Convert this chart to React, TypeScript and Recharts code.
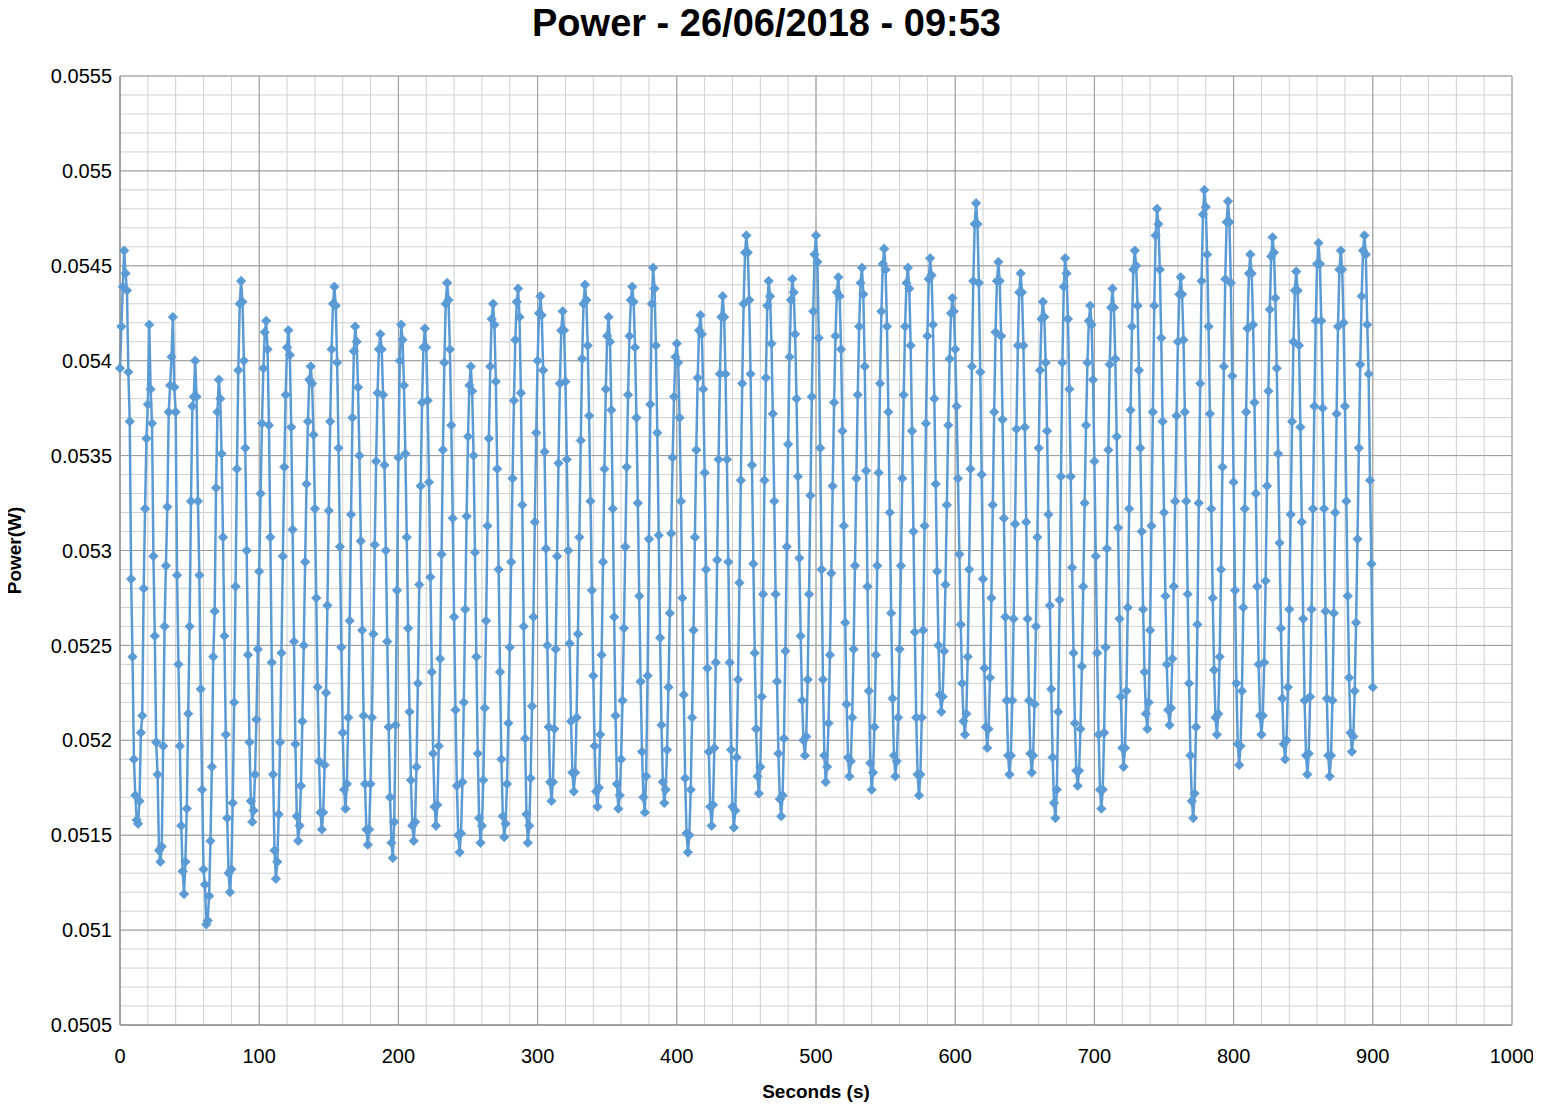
import React from 'react';
import { LineChart, Line, XAxis, YAxis, CartesianGrid } from 'recharts';

const chartTitle = 'Power - 26/06/2018 - 09:53';
const xAxisTitle = 'Seconds (s)';
const yAxisTitle = 'Power(W)';
const sampleIntervalSeconds = 1;

// Power readings in milliwatts, one per second
const powerMw000 = [
  53.96, 54.18, 54.39, 54.58, 54.46, 54.37, 53.94, 53.68, 52.85, 52.44,
  51.90, 51.71, 51.58, 51.56, 51.68, 52.04, 52.13, 52.80, 53.22, 53.59,
  53.77, 54.19, 53.85, 53.67, 52.97, 52.55, 51.99, 51.82, 51.42, 51.36,
  51.44, 51.97, 52.60, 52.92, 53.23, 53.73, 53.87, 54.02, 54.23, 53.86,
  53.73, 52.87, 52.40, 51.97, 51.55, 51.31, 51.19, 51.36, 51.64, 52.14,
  52.60, 53.26, 53.76, 53.81, 54.00, 53.81, 53.26, 52.87, 52.27, 51.74,
  51.32, 51.24, 51.03, 51.05, 51.18, 51.47, 51.86, 52.44, 52.68, 53.33,
  53.73, 53.90, 53.80, 53.51, 53.07, 52.55, 52.03, 51.59, 51.30, 51.20,
  51.32, 51.67, 52.20, 52.81, 53.43, 53.95, 54.30, 54.42, 54.31, 54.00,
  53.54, 53.00, 52.45, 51.99, 51.68, 51.57, 51.63, 51.82, 52.11, 52.48,
];
const powerMw100 = [
  52.89, 53.30, 53.67, 53.96, 54.15, 54.21, 54.06, 53.66, 53.07, 52.41,
  51.82, 51.42, 51.27, 51.36, 51.61, 51.99, 52.46, 52.97, 53.44, 53.82,
  54.07, 54.16, 54.03, 53.65, 53.11, 52.52, 51.98, 51.60, 51.47, 51.55,
  51.76, 52.10, 52.50, 52.94, 53.35, 53.68, 53.90, 53.97, 53.88, 53.61,
  53.22, 52.75, 52.28, 51.89, 51.62, 51.53, 51.62, 51.87, 52.25, 52.71,
  53.21, 53.68, 54.06, 54.30, 54.39, 54.29, 53.99, 53.54, 53.02, 52.49,
  52.04, 51.74, 51.64, 51.77, 52.12, 52.63, 53.19, 53.70, 54.05, 54.18,
  54.10, 53.86, 53.50, 53.05, 52.58, 52.13, 51.77, 51.53, 51.45, 51.53,
  51.77, 52.12, 52.56, 53.03, 53.47, 53.83, 54.06, 54.14, 54.06, 53.82,
  53.45, 53.00, 52.52, 52.07, 51.70, 51.46, 51.38, 51.57, 52.08, 52.79,
];
const powerMw200 = [
  53.49, 54.00, 54.19, 54.11, 53.87, 53.51, 53.07, 52.59, 52.15, 51.79,
  51.55, 51.47, 51.57, 51.86, 52.30, 52.82, 53.34, 53.78, 54.07, 54.17,
  54.07, 53.79, 53.36, 52.86, 52.36, 51.93, 51.65, 51.55, 51.66, 51.97,
  52.43, 52.98, 53.53, 53.99, 54.30, 54.41, 54.32, 54.06, 53.66, 53.17,
  52.65, 52.16, 51.76, 51.50, 51.41, 51.51, 51.78, 52.20, 52.69, 53.18,
  53.60, 53.87, 53.97, 53.84, 53.50, 52.99, 52.44, 51.93, 51.59, 51.46,
  51.55, 51.79, 52.17, 52.63, 53.13, 53.59, 53.97, 54.22, 54.30, 54.19,
  53.89, 53.43, 52.90, 52.36, 51.90, 51.60, 51.49, 51.56, 51.77, 52.09,
  52.49, 52.94, 53.38, 53.79, 54.11, 54.31, 54.38, 54.23, 53.83, 53.24,
  52.60, 52.01, 51.61, 51.46, 51.55, 51.80, 52.18, 52.65, 53.15, 53.62,
];
const powerMw300 = [
  54.00, 54.25, 54.34, 54.24, 53.95, 53.52, 53.01, 52.50, 52.07, 51.78,
  51.68, 51.78, 52.06, 52.48, 52.97, 53.46, 53.88, 54.16, 54.26, 54.16,
  53.89, 53.48, 53.00, 52.51, 52.10, 51.83, 51.73, 51.83, 52.12, 52.56,
  53.07, 53.58, 54.01, 54.30, 54.40, 54.32, 54.08, 53.71, 53.26, 52.79,
  52.34, 51.97, 51.73, 51.65, 51.75, 52.03, 52.45, 52.94, 53.43, 53.85,
  54.13, 54.23, 54.10, 53.74, 53.22, 52.65, 52.13, 51.77, 51.64, 51.71,
  51.90, 52.21, 52.59, 53.02, 53.44, 53.82, 54.13, 54.32, 54.39, 54.31,
  54.07, 53.70, 53.25, 52.76, 52.31, 51.94, 51.70, 51.62, 51.81, 52.34,
  53.06, 53.77, 54.30, 54.49, 54.38, 54.08, 53.62, 53.08, 52.54, 52.08,
  51.78, 51.67, 51.74, 51.95, 52.28, 52.67, 53.09, 53.49, 53.81, 54.02,
];
const powerMw400 = [
  54.09, 53.99, 53.70, 53.26, 52.75, 52.24, 51.80, 51.51, 51.41, 51.50,
  51.74, 52.12, 52.58, 53.07, 53.53, 53.91, 54.16, 54.24, 54.14, 53.85,
  53.41, 52.90, 52.38, 51.94, 51.65, 51.55, 51.66, 51.96, 52.41, 52.95,
  53.48, 53.93, 54.23, 54.34, 54.23, 53.93, 53.48, 52.94, 52.41, 51.95,
  51.65, 51.54, 51.63, 51.91, 52.32, 52.83, 53.37, 53.88, 54.30, 54.57,
  54.66, 54.57, 54.32, 53.93, 53.45, 52.93, 52.46, 52.06, 51.81, 51.72,
  51.86, 52.23, 52.77, 53.37, 53.91, 54.29, 54.42, 54.34, 54.09, 53.72,
  53.26, 52.77, 52.31, 51.93, 51.69, 51.60, 51.71, 52.01, 52.47, 53.02,
  53.56, 54.02, 54.32, 54.43, 54.36, 54.14, 53.80, 53.39, 52.96, 52.55,
  52.21, 52.00, 51.92, 52.02, 52.32, 52.77, 53.29, 53.81, 54.26, 54.56,
];
const powerMw500 = [
  54.66, 54.52, 54.12, 53.54, 52.90, 52.32, 51.92, 51.78, 51.86, 52.09,
  52.45, 52.88, 53.34, 53.78, 54.13, 54.36, 54.44, 54.34, 54.06, 53.63,
  53.13, 52.62, 52.19, 51.91, 51.81, 51.89, 52.12, 52.48, 52.92, 53.38,
  53.82, 54.18, 54.41, 54.49, 54.35, 53.97, 53.42, 52.81, 52.26, 51.88,
  51.74, 51.83, 52.07, 52.45, 52.92, 53.41, 53.88, 54.26, 54.51, 54.59,
  54.48, 54.18, 53.73, 53.20, 52.67, 52.22, 51.92, 51.81, 51.89, 52.12,
  52.48, 52.92, 53.38, 53.82, 54.18, 54.41, 54.49, 54.38, 54.08, 53.63,
  53.10, 52.57, 52.12, 51.82, 51.71, 51.82, 52.12, 52.58, 53.13, 53.67,
  54.13, 54.43, 54.54, 54.45, 54.19, 53.80, 53.35, 52.89, 52.50, 52.24,
  52.15, 52.23, 52.47, 52.82, 53.24, 53.66, 54.01, 54.25, 54.33, 54.26,
];
const powerMw600 = [
  54.06, 53.76, 53.38, 52.98, 52.61, 52.30, 52.10, 52.03, 52.14, 52.44,
  52.90, 53.43, 53.97, 54.42, 54.72, 54.83, 54.72, 54.41, 53.94, 53.40,
  52.85, 52.38, 52.07, 51.96, 52.06, 52.33, 52.75, 53.24, 53.73, 54.15,
  54.42, 54.52, 54.42, 54.13, 53.69, 53.17, 52.65, 52.21, 51.92, 51.82,
  51.92, 52.21, 52.64, 53.14, 53.64, 54.08, 54.36, 54.46, 54.36, 54.08,
  53.65, 53.15, 52.64, 52.21, 51.93, 51.83, 51.92, 52.19, 52.60, 53.07,
  53.54, 53.95, 54.22, 54.31, 54.23, 53.99, 53.63, 53.19, 52.71, 52.27,
  51.91, 51.67, 51.59, 51.74, 52.15, 52.74, 53.39, 53.99, 54.39, 54.54,
  54.46, 54.22, 53.85, 53.39, 52.91, 52.46, 52.09, 51.84, 51.76, 51.84,
  52.06, 52.39, 52.81, 53.25, 53.66, 53.99, 54.21, 54.29, 54.19, 53.90,
];
const powerMw700 = [
  53.47, 52.97, 52.46, 52.03, 51.74, 51.64, 51.74, 52.04, 52.49, 53.01,
  53.53, 53.98, 54.28, 54.38, 54.28, 54.01, 53.60, 53.12, 52.64, 52.23,
  51.96, 51.86, 51.96, 52.26, 52.70, 53.22, 53.74, 54.18, 54.48, 54.58,
  54.50, 54.29, 53.95, 53.54, 53.10, 52.69, 52.36, 52.14, 52.06, 52.20,
  52.58, 53.13, 53.73, 54.29, 54.66, 54.80, 54.72, 54.48, 54.12, 53.68,
  53.20, 52.76, 52.40, 52.16, 52.08, 52.17, 52.43, 52.81, 53.26, 53.71,
  54.10, 54.35, 54.44, 54.35, 54.11, 53.73, 53.26, 52.77, 52.30, 51.92,
  51.68, 51.59, 51.72, 52.07, 52.61, 53.25, 53.88, 54.42, 54.77, 54.90,
  54.81, 54.56, 54.18, 53.72, 53.22, 52.75, 52.37, 52.12, 52.03, 52.14,
  52.44, 52.90, 53.44, 53.97, 54.43, 54.73, 54.84, 54.73, 54.41, 53.92,
];
const powerMw800 = [
  53.36, 52.79, 52.30, 51.98, 51.87, 51.97, 52.26, 52.70, 53.22, 53.73,
  54.17, 54.46, 54.56, 54.46, 54.19, 53.78, 53.30, 52.81, 52.40, 52.13,
  52.03, 52.13, 52.41, 52.84, 53.34, 53.84, 54.27, 54.55, 54.65, 54.57,
  54.33, 53.96, 53.51, 53.04, 52.59, 52.22, 51.98, 51.90, 52.00, 52.28,
  52.69, 53.19, 53.68, 54.10, 54.37, 54.47, 54.37, 54.08, 53.65, 53.15,
  52.64, 52.21, 51.92, 51.82, 51.93, 52.23, 52.69, 53.22, 53.76, 54.21,
  54.51, 54.62, 54.51, 54.21, 53.75, 53.22, 52.68, 52.22, 51.92, 51.81,
  51.92, 52.21, 52.67, 53.20, 53.72, 54.18, 54.48, 54.58, 54.48, 54.20,
  53.76, 53.26, 52.76, 52.33, 52.04, 51.94, 52.02, 52.26, 52.62, 53.06,
  53.54, 53.98, 54.34, 54.58, 54.66, 54.56, 54.19, 53.93, 53.37, 52.93,
  52.28,
];

const xTicks = [0, 100, 200, 300, 400, 500, 600, 700, 800, 900, 1000];
const yTickLabels = ['0.0505', '0.051', '0.0515', '0.052', '0.0525', '0.053', '0.0535', '0.054', '0.0545', '0.055', '0.0555'];
const yTicks = yTickLabels.map(Number);

const xMinorStep = 20;
const yMinorStep = 0.0001;
const xMinorTicks = Array.from({ length: 1000 / xMinorStep + 1 }, (_, i) => i * xMinorStep);
const yMinorTicks = Array.from({ length: 51 }, (_, i) => Number((0.0505 + i * yMinorStep).toFixed(4)));

const powerMilliWatts = [
  ...powerMw000, ...powerMw100, ...powerMw200, ...powerMw300, ...powerMw400,
  ...powerMw500, ...powerMw600, ...powerMw700, ...powerMw800,
];
const data = powerMilliWatts.map((mw, i) => ({ seconds: i * sampleIntervalSeconds, power: mw / 1000 }));

const FONT = "'Liberation Sans', Arial, sans-serif";
const SERIES_COLOR = '#5B9BD5';

const renderDiamond = (props: any) => {
  const { cx, cy, index } = props;
  if (cx == null || cy == null) return <g key={`m-${index}`} />;
  const r = 4.7;
  return (
    <path
      key={`m-${index}`}
      d={`M${cx},${cy - r}L${cx + r},${cy}L${cx},${cy + r}L${cx - r},${cy}Z`}
      fill={SERIES_COLOR}
      stroke={SERIES_COLOR}
      strokeWidth={0.8}
    />
  );
};

const formatY = (v: number) => {
  const idx = yTicks.findIndex((t) => Math.abs(t - v) < 1e-9);
  return idx >= 0 ? yTickLabels[idx] : String(v);
};

export default function App() {
  return (
    <div style={{ position: 'relative', width: 1541, height: 1108, margin: '-8px 0 0 -8px', fontFamily: FONT }}>
      <div
        style={{
          position: 'absolute',
          top: 4,
          left: 0,
          width: 1533,
          textAlign: 'center',
          fontSize: 38,
          lineHeight: '38px',
          fontWeight: 'bold',
          color: '#000',
          fontFamily: FONT,
        }}
      >
        {chartTitle}
      </div>
      <div style={{ position: 'absolute', top: 0, left: 0 }}>
        <LineChart width={1541} height={1108} data={data} margin={{ top: 76, right: 29, bottom: 0, left: 0 }}>
          <XAxis xAxisId="minor" type="number" dataKey="seconds" domain={[0, 1000]} ticks={xMinorTicks} interval={0} hide />
          <YAxis yAxisId="minor" type="number" dataKey="power" domain={[0.0505, 0.0555]} ticks={yMinorTicks} interval={0} hide />
          <CartesianGrid xAxisId="minor" yAxisId="minor" stroke="#D0D0D0" strokeWidth={1} />
          <CartesianGrid stroke="#9A9A9A" strokeWidth={1} />
          <XAxis
            type="number"
            dataKey="seconds"
            domain={[0, 1000]}
            ticks={xTicks}
            interval={0}
            height={83}
            tickLine={false}
            tickSize={0}
            tickMargin={24}
            axisLine={{ stroke: '#868686', strokeWidth: 1 }}
            tick={{ fontSize: 20, fill: '#000', fontFamily: FONT }}
            label={{
              value: xAxisTitle,
              position: 'insideBottom',
              offset: 10,
              fontSize: 19,
              fontWeight: 'bold',
              fill: '#000',
              fontFamily: FONT,
              style: { fontSize: 19, fontWeight: 'bold', fill: '#000', fontFamily: FONT },
            }}
          />
          <YAxis
            type="number"
            dataKey="power"
            domain={[0.0505, 0.0555]}
            ticks={yTicks}
            interval={0}
            width={120}
            tickLine={false}
            tickSize={0}
            tickMargin={8}
            tickFormatter={formatY}
            axisLine={{ stroke: '#868686', strokeWidth: 1 }}
            tick={{ fontSize: 20, fill: '#000', fontFamily: FONT }}
            label={{
              value: yAxisTitle,
              angle: -90,
              position: 'insideLeft',
              offset: 14,
              fontSize: 19,
              fontWeight: 'bold',
              fill: '#000',
              fontFamily: FONT,
              style: { textAnchor: 'middle', fontSize: 19, fontWeight: 'bold', fill: '#000', fontFamily: FONT },
            }}
          />
          <Line
            type="linear"
            dataKey="power"
            stroke={SERIES_COLOR}
            strokeWidth={2.5}
            dot={renderDiamond}
            activeDot={false}
            isAnimationActive={false}
          />
        </LineChart>
      </div>
    </div>
  );
}
